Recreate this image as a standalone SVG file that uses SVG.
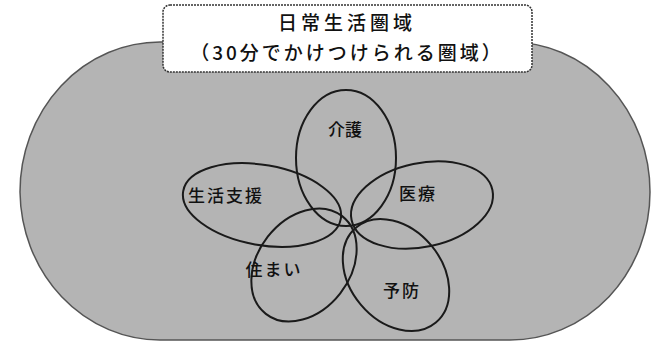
<svg xmlns="http://www.w3.org/2000/svg" width="651" height="345" viewBox="0 0 651 345">
<style>
  .area { fill: #b4b4b4; stroke: #555; stroke-width: 1.5; }
  .petal { fill: none; stroke: #1a1a1a; stroke-width: 2; }
  .lbl { font-family: "Noto Sans CJK JP", "Noto Sans", sans-serif; font-size: 17px; font-weight: 500; fill: #111; text-anchor: middle; }
  .title { font-family: "Noto Sans CJK JP", "Noto Sans", sans-serif; font-size: 19px; font-weight: 500; fill: #111; text-anchor: middle; }
  .box { fill: #ffffff; stroke: #333; stroke-width: 1.5; stroke-dasharray: 2 1; }
</style>
<rect width="651" height="345" fill="#ffffff"/>
<g id="area">
  <path class="area" d="M 160 42 H 510 A 140 150 0 0 1 650 192 A 140 148 0 0 1 510 340 H 160 A 140 150 0 0 1 20 192 A 140 150 0 0 1 160 42 Z"/>
</g>
<g id="title-box">
  <rect class="box" x="163" y="5" width="369" height="67" rx="7"/>
  <text class="title" x="347" y="30" letter-spacing="4">日常生活圏域</text>
  <text class="title" x="347" y="60" letter-spacing="3">（30分でかけつけられる圏域）</text>
</g>
<g id="connectors"></g>
<g id="petal-top">
  <ellipse class="petal" cx="346" cy="158" rx="50" ry="68"/>
  <text class="lbl" x="345" y="136">介護</text>
</g>
<g id="petal-left">
  <ellipse class="petal" cx="262" cy="205" rx="80" ry="40" transform="rotate(10 262 205)"/>
  <text class="lbl" x="226" y="202" letter-spacing="2">生活支援</text>
</g>
<g id="petal-right">
  <ellipse class="petal" cx="422" cy="205" rx="72" ry="42" transform="rotate(-12 422 205)"/>
  <text class="lbl" x="418" y="200" letter-spacing="2">医療</text>
</g>
<g id="petal-bottom-left">
  <ellipse class="petal" cx="304" cy="265" rx="62" ry="46" transform="rotate(-52 304 265)"/>
  <text class="lbl" x="274" y="276" letter-spacing="2">住まい</text>
</g>
<g id="petal-bottom-right">
  <ellipse class="petal" cx="396" cy="275" rx="62" ry="46" transform="rotate(50 396 275)"/>
  <text class="lbl" x="402" y="297" letter-spacing="2">予防</text>
</g>
</svg>
